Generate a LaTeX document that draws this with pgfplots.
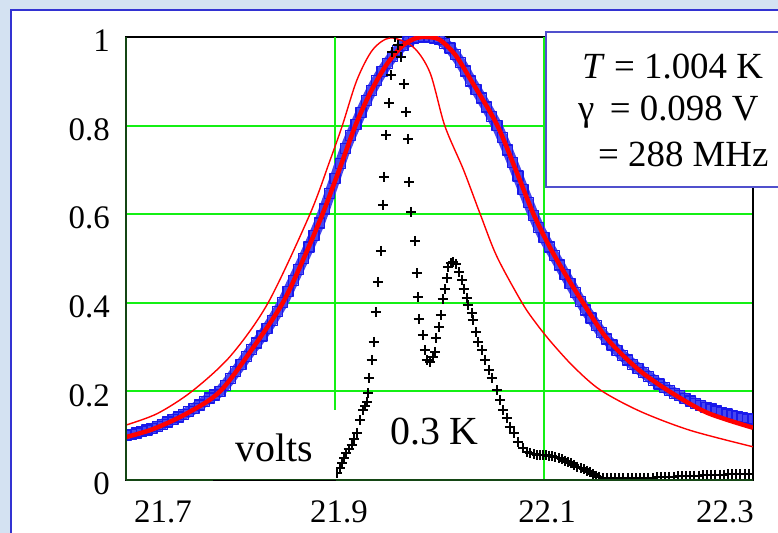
\documentclass[border=0pt]{standalone}
\usepackage{fontspec}
\setmainfont{Liberation Serif}
\usepackage{pgfplots}
\usepackage{pgfplotstable}
\pgfplotsset{compat=1.18}

\definecolor{bgblue}{RGB}{212,226,242}
\definecolor{frameblue}{RGB}{50,50,210}
\definecolor{boxblue}{RGB}{80,80,205}
\definecolor{gridgreen}{RGB}{20,240,20}
\definecolor{axgreen}{RGB}{20,70,20}
\definecolor{sqblue}{RGB}{25,25,235}
\definecolor{bandblue}{RGB}{70,70,240}

% measured transmission, 1.004 K
\pgfplotstableread{
x y
21.700 0.100
21.705 0.103
21.710 0.106
21.715 0.109
21.720 0.113
21.725 0.116
21.730 0.121
21.735 0.126
21.740 0.131
21.745 0.137
21.750 0.142
21.755 0.148
21.760 0.154
21.765 0.161
21.770 0.169
21.775 0.177
21.780 0.185
21.785 0.192
21.790 0.200
21.795 0.214
21.800 0.229
21.805 0.245
21.810 0.261
21.815 0.278
21.820 0.294
21.825 0.309
21.830 0.325
21.835 0.342
21.840 0.360
21.845 0.380
21.850 0.400
21.855 0.425
21.860 0.450
21.865 0.475
21.870 0.500
21.875 0.526
21.880 0.552
21.885 0.580
21.890 0.612
21.895 0.646
21.900 0.680
21.905 0.715
21.910 0.748
21.915 0.777
21.920 0.803
21.925 0.830
21.930 0.856
21.935 0.880
21.940 0.902
21.945 0.922
21.950 0.940
21.955 0.956
21.960 0.970
21.965 0.981
21.970 0.990
21.975 0.996
21.980 0.999
21.985 1.000
21.990 0.999
21.995 0.998
22.000 0.994
22.005 0.986
22.010 0.975
22.015 0.960
22.020 0.943
22.025 0.923
22.030 0.901
22.035 0.882
22.040 0.862
22.045 0.842
22.050 0.821
22.055 0.800
22.060 0.773
22.065 0.745
22.070 0.716
22.075 0.686
22.080 0.656
22.085 0.626
22.090 0.597
22.095 0.570
22.100 0.547
22.105 0.526
22.110 0.506
22.115 0.485
22.120 0.464
22.125 0.444
22.130 0.423
22.135 0.403
22.140 0.384
22.145 0.366
22.150 0.349
22.155 0.333
22.160 0.318
22.165 0.305
22.170 0.293
22.175 0.281
22.180 0.271
22.185 0.261
22.190 0.252
22.195 0.243
22.200 0.234
22.205 0.225
22.210 0.217
22.215 0.209
22.220 0.202
22.225 0.196
22.230 0.190
22.235 0.184
22.240 0.178
22.245 0.173
22.250 0.168
22.255 0.164
22.260 0.160
22.265 0.156
22.270 0.152
22.275 0.149
22.280 0.146
22.285 0.143
22.290 0.140
22.295 0.138
22.300 0.136
}\measured

% fitted line shape, gamma = 0.098 V
\pgfplotstableread{
x y
21.700 0.097
21.726 0.115
21.758 0.150
21.790 0.200
21.822 0.300
21.850 0.400
21.870 0.500
21.888 0.600
21.904 0.700
21.920 0.803
21.935 0.880
21.950 0.940
21.965 0.981
21.978 0.998
21.988 1.000
22.000 0.994
22.015 0.960
22.030 0.903
22.055 0.802
22.075 0.688
22.090 0.600
22.105 0.528
22.120 0.466
22.136 0.405
22.160 0.320
22.190 0.250
22.220 0.200
22.256 0.152
22.300 0.118
}\fitted

% comparison trace
\pgfplotstableread{
x y
21.700 0.124
21.730 0.150
21.763 0.200
21.800 0.280
21.836 0.400
21.876 0.600
21.895 0.720
21.907 0.800
21.921 0.903
21.936 0.971
21.953 0.998
21.975 0.977
21.991 0.919
22.005 0.800
22.023 0.700
22.039 0.600
22.055 0.504
22.079 0.400
22.093 0.352
22.108 0.308
22.129 0.254
22.154 0.203
22.192 0.155
22.240 0.112
22.300 0.075
}\compare

% transmission at 0.3 K
\pgfplotstableread{
x y
21.902 0.016
21.905 0.028
21.907 0.038
21.909 0.050
21.911 0.061
21.913 0.070
21.916 0.079
21.918 0.092
21.921 0.106
21.924 0.135
21.927 0.158
21.929 0.167
21.931 0.176
21.932 0.196
21.933 0.230
21.935 0.271
21.937 0.312
21.939 0.379
21.941 0.447
21.944 0.517
21.946 0.621
21.947 0.684
21.949 0.779
21.952 0.851
21.954 0.914
21.955 0.966
21.957 1.000
21.960 0.982
21.963 0.955
21.966 0.894
21.968 0.831
21.970 0.770
21.971 0.673
21.973 0.605
21.977 0.540
21.978 0.467
21.979 0.413
21.980 0.363
21.984 0.327
21.986 0.293
21.988 0.271
21.991 0.266
21.994 0.278
21.996 0.289
21.997 0.321
22.000 0.345
22.001 0.372
22.003 0.408
22.005 0.431
22.007 0.456
22.008 0.481
22.011 0.490
22.013 0.492
22.016 0.488
22.019 0.470
22.022 0.451
22.023 0.431
22.026 0.411
22.027 0.395
22.031 0.377
22.032 0.361
22.035 0.334
22.037 0.312
22.041 0.293
22.044 0.271
22.047 0.248
22.050 0.230
22.055 0.203
22.058 0.181
22.061 0.158
22.065 0.140
22.067 0.120
22.071 0.106
22.075 0.086
22.080 0.072
22.084 0.064
22.087 0.061
22.090 0.058
22.093 0.056
22.096 0.056
22.099 0.056
22.102 0.056
22.105 0.055
22.108 0.054
22.111 0.052
22.114 0.050
22.117 0.047
22.120 0.044
22.123 0.041
22.126 0.038
22.129 0.034
22.132 0.030
22.135 0.027
22.138 0.024
22.141 0.021
22.144 0.017
22.147 0.013
22.150 0.010
22.153 0.007
22.156 0.005
22.160 0.004
22.164 0.004
22.168 0.004
22.172 0.004
22.176 0.004
22.180 0.004
22.184 0.004
22.188 0.004
22.192 0.004
22.196 0.005
22.200 0.005
22.204 0.005
22.208 0.006
22.212 0.006
22.216 0.006
22.220 0.007
22.224 0.007
22.228 0.008
22.232 0.008
22.236 0.009
22.240 0.009
22.244 0.010
22.248 0.010
22.252 0.011
22.256 0.011
22.260 0.011
22.264 0.012
22.268 0.012
22.272 0.012
22.276 0.013
22.280 0.013
22.284 0.013
22.288 0.013
22.292 0.013
22.296 0.013
22.300 0.013
}\coldrun

\begin{document}
\begin{tikzpicture}
\useasboundingbox (0,0) rectangle (778bp,533bp);
\clip (0,0) rectangle (778bp,533bp);
\fill[bgblue] (0,0) rectangle (778bp,533bp);
\draw[frameblue, line width=2.5bp, fill=white] (11bp,-20bp) rectangle (800bp,523bp);

\begin{axis}[
  at={(126bp,53bp)}, anchor=south west,
  scale only axis, width=627bp, height=443bp,
  xmin=21.7, xmax=22.3, ymin=0, ymax=1,
  xtick={21.7354,21.9038,22.1029,22.2732},
  xticklabels={21.7,21.9,22.1,22.3},
  ytick={0,0.2,0.4,0.6,0.8,1},
  yticklabels={0,0.2,0.4,0.6,0.8,1},
  major tick length=0pt,
  extra x ticks={21.9,22.1},
  extra x tick labels={{},{}},
  extra x tick style={grid=major, major tick length=0pt},
  ymajorgrids,
  grid style={gridgreen, line width=2bp},
  axis line style={black, line width=1.2bp},
  clip marker paths=true,
  tick label style={font=\fontsize{33}{36}\selectfont},
  xticklabel style={anchor=center, inner sep=0pt, yshift=-32bp},
  yticklabel style={anchor=east, inner sep=0pt, xshift=-16bp, yshift=-4bp},
]
% blue band of measured points
\addplot[bandblue, line width=11bp, line join=round, line cap=round,
  mark=square, mark size=5bp,
  mark options={sqblue, line width=1.3bp, solid}] table {\measured};
\addplot[red, line width=1.4bp, smooth] table {\compare};
\addplot[red, line width=4.5bp, smooth] table {\fitted};
\addplot[black, only marks, mark=+, mark size=5bp,
  mark options={black, line width=2bp}] table {\coldrun};
\end{axis}

% axis edges and the label box at the foot of the plot
\draw[axgreen, line width=1.4bp] (126bp,53bp) -- (126bp,496bp);
\draw[axgreen, line width=1.4bp] (126bp,53bp) -- (753bp,53bp);
\fill[white] (213bp,54bp) rectangle (336bp,123bp);
\draw[black, line width=0.8bp] (213bp,53bp) -- (336bp,53bp);

\node[anchor=base west, inner sep=0pt, font=\fontsize{40}{44}\selectfont]
  at (235bp,71bp) {volts};
\node[anchor=base west, inner sep=0pt, font=\fontsize{40}{44}\selectfont]
  at (390bp,88bp) {0.3 K};

% parameter box
\draw[boxblue, line width=1.5bp, fill=white] (546bp,346bp) rectangle (800bp,501bp);
\begin{scope}[every node/.style={anchor=base west, inner sep=0pt,
    font=\fontsize{37}{40}\selectfont}]
\node at (582bp,454bp) {\textit{T} = 1.004 K};
\node at (578bp,412bp) {γ \,= 0.098 V};
\node at (598bp,366bp) {= 288 MHz};
\end{scope}
\end{tikzpicture}
\end{document}
